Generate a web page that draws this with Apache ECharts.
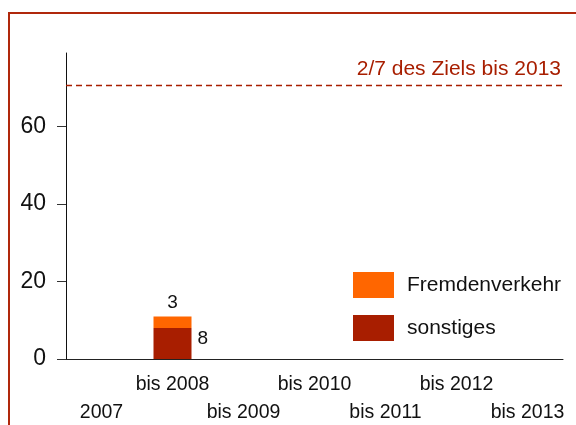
<!DOCTYPE html>
<html>
<head>
<meta charset="utf-8">
<script src="https://cdn.jsdelivr.net/npm/echarts@6/dist/echarts.min.js"></script>
<style>html,body{margin:0;padding:0;background:#fff}#c{width:576px;height:425px}</style>
</head>
<body>
<div id="c"></div>
<script>
var categories = ['2007', 'bis 2008', 'bis 2009', 'bis 2010', 'bis 2011', 'bis 2012', 'bis 2013'];
var sonstiges = [null, 8, null, null, null, null, null];
var fremdenverkehr = [null, 3, null, null, null, null, null];
var yTicks = [0, 20, 40, 60];
var goalValue = 70.8;
var goalLabel = '2/7 des Ziels bis 2013';

var FONT = 'Liberation Sans, Arial, Helvetica, sans-serif';
var DARK = '#a81e00';
var ORANGE = '#ff6600';
var chart = echarts.init(document.getElementById('c'));
chart.setOption({
  animation: false,
  textStyle: { fontFamily: FONT },
  graphic: [{
    type: 'rect', shape: { x: 9, y: 13, width: 700, height: 600 },
    style: { fill: 'none', stroke: '#b0280c', lineWidth: 2 }, silent: true, z: 100
  }],
  grid: { left: 66, right: 13, top: 53, bottom: 66, outerBoundsMode: 'none', containLabel: false },
  legend: {
    orient: 'vertical', left: 348, top: 267,
    itemWidth: 41, itemHeight: 26, itemGap: 17,
    data: ['Fremdenverkehr', 'sonstiges'],
    textStyle: { fontFamily: FONT, fontSize: 21, color: '#111', padding: [0, 0, 0, 8] },
    icon: 'rect'
  },
  xAxis: {
    type: 'category', data: categories,
    axisLine: { lineStyle: { color: '#222', width: 1 } },
    axisTick: { show: false },
    axisLabel: {
      interval: 0, hideOverlap: false, margin: 12, fontSize: 19.5, color: '#111', lineHeight: 28, fontFamily: FONT,
      formatter: function (v, i) { return i % 2 === 1 ? v : '\n' + v; }
    }
  },
  yAxis: {
    type: 'value', min: 0, max: 79,
    splitLine: { show: false },
    axisLine: { show: true, lineStyle: { color: '#111', width: 1 } },
    axisTick: { show: true, length: 9, lineStyle: { color: '#333' }, customValues: yTicks },
    axisLabel: { customValues: yTicks, fontSize: 23, color: '#111', margin: 20, fontFamily: FONT }
  },
  series: [{
    name: 'sonstiges', type: 'bar', stack: 's', data: sonstiges, barWidth: 38,
    itemStyle: { color: DARK },
    label: { show: true, position: 'right', distance: 6, fontSize: 19, color: '#111', fontFamily: FONT, offset: [0, -5] },
    markLine: {
      silent: true, symbol: 'none',
      lineStyle: { color: DARK, type: [6, 4], width: 1.3 },
      label: { show: true, position: 'insideEndTop', formatter: goalLabel, color: DARK, fontSize: 21, fontFamily: FONT, distance: [2, 5] },
      data: [{ yAxis: goalValue }]
    }
  }, {
    name: 'Fremdenverkehr', type: 'bar', stack: 's', data: fremdenverkehr, barWidth: 38,
    itemStyle: { color: ORANGE },
    label: { show: true, position: 'top', distance: 4, fontSize: 19, color: '#111', fontFamily: FONT }
  }]
});
</script>
</body>
</html>
